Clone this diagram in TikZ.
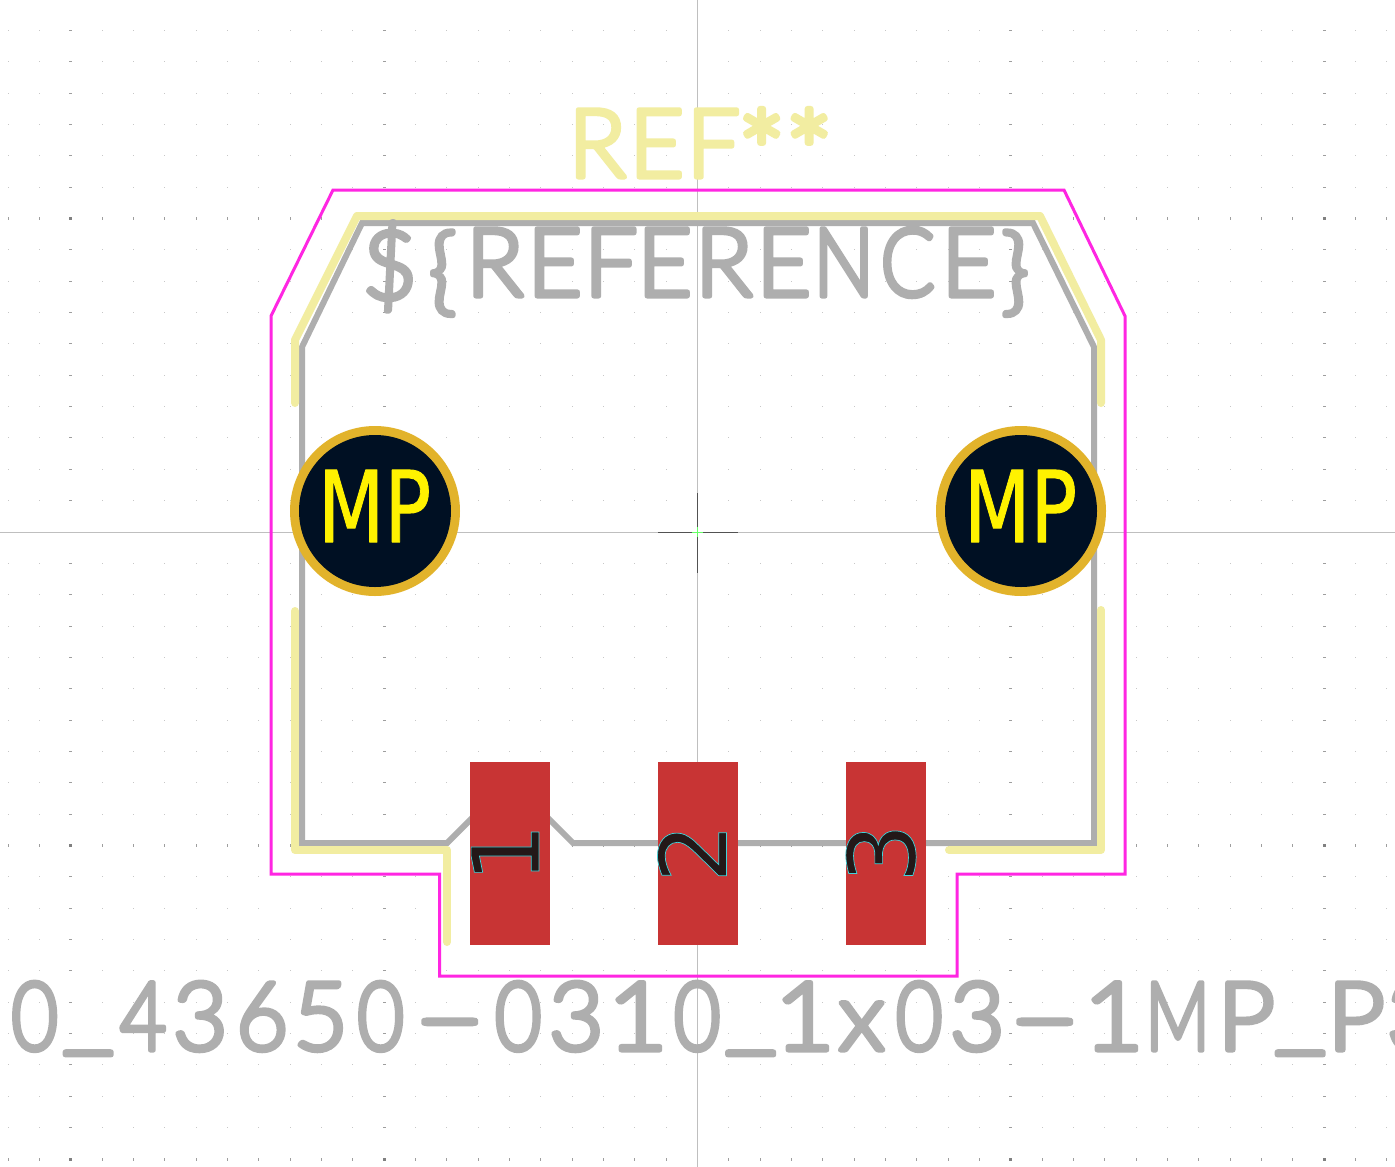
\documentclass[tikz,border=0pt]{standalone}
\usepackage{fontspec}
\setmainfont{DejaVu Sans}
\newfontfamily\strokefont{Lato Light}
\definecolor{fabgrey}{HTML}{AEAEAE}
\definecolor{silk}{HTML}{F2EDA1}
\definecolor{court}{HTML}{FF26E2}
\definecolor{padred}{HTML}{C83434}
\definecolor{padgold}{HTML}{E2B32B}
\definecolor{padnavy}{HTML}{001023}
\definecolor{digit}{HTML}{231818}
\newcommand{\strk}[1]{\special{pdf:code 2 Tr #1 w 1 J 1 j}}
\newcommand{\edge}{\special{pdf:code 2 Tr 0.7 w 0.25 0.83 0.86 RG}}
% one glyph, centred at #1 from the start of the line, stretched by #2
\newcommand{\gl}[3]{\rlap{\kern#1pt\makebox[0pt][c]{\scalebox{#2}[1]{#3}}}}
\newcommand{\starglyph}{\raisebox{-17pt}{\scalebox{1.2}{*}}}
\newcommand{\lowglyph}{\raisebox{8pt}{\_}}
\tikzset{
  griddot/.style={fill=black!22},
  gridmid/.style={fill=black!38},
  gridbig/.style={fill=black!50},
  axisline/.style={draw=black!25,line width=1pt},
  crossline/.style={draw=black!68,line width=1pt},
  fabline/.style={draw=fabgrey,line width=6pt,miter limit=10},
  silkline/.style={draw=silk,line width=8pt,line cap=round,line join=round},
  courtline/.style={draw=court,line width=3pt},
  smdpad/.style={fill=padred},
  mountring/.style={fill=padgold},
  mountcore/.style={fill=padnavy},
  padtext/.style={text=yellow,inner sep=0,font=\fontsize{99}{99}\selectfont},
  digittext/.style={text=digit,inner sep=0,rotate=90,font=\fontsize{93}{93}\selectfont},
  fieldtext/.style={inner sep=0,anchor=base west,font=\strokefont\fontsize{95}{95}\selectfont}
}
\begin{document}
\begin{tikzpicture}[x=1pt,y=-1pt]
\useasboundingbox (0,0) rectangle (1395,1167);
\fill[white] (0,0) rectangle (1395,1167);
\clip (0,0) rectangle (1395,1167);
% grid
\foreach \i in {-22,...,22} \foreach \k in {-17,...,20} {
  \fill[griddot] ({697+\i*31.33},{531.5+\k*31.35}) rectangle ++(1,1);
}
\foreach \i in {-20,-10,10,20} \foreach \k in {-17,...,20} {
  \fill[gridmid] ({696+\i*31.33},{531.5+\k*31.35}) rectangle ++(3,1);
}
\foreach \i in {-22,...,22} \foreach \k in {-10,10,20} {
  \fill[gridmid] ({697+\i*31.33},{530.5+\k*31.35}) rectangle ++(1,3);
}
\foreach \i in {-20,-10,10,20} \foreach \k in {-10,10,20} {
  \fill[gridbig] ({696+\i*31.33},{530.5+\k*31.35}) rectangle ++(3,3);
}
% axes
\draw[axisline] (697.5,0) -- (697.5,1167);
\draw[axisline] (0,532) -- (1395,532);
\draw[crossline] (697.5,493) -- (697.5,573);
\draw[crossline] (658,532) -- (738,532);
\draw[draw=green!60!white,line width=1pt] (692,532) -- (703,532) (697.5,527) -- (697.5,537);
% fab outline
\draw[fabline] (362,223) -- (1033,223) -- (1094,347) -- (1094,843) -- (573,843) -- (510,780) -- (447,843) -- (302,843) -- (302,347) -- cycle;
% silk
\draw[silkline] (295,403) -- (295,340) -- (357,216) -- (1040,216) -- (1101,340) -- (1101,403);
\draw[silkline] (295,611) -- (295,850) -- (447,850) -- (447,942);
\draw[silkline] (1101,610) -- (1101,850) -- (949,850);
% courtyard
\draw[courtline] (333,190) -- (1064,190) -- (1125,316) -- (1125,874) -- (957,874) -- (957,976) -- (439.5,976) -- (439.5,874) -- (271,874) -- (271,316) -- cycle;
% texts
\node[fieldtext,text=silk] (reftext) at (0,177) {\strk{5}\makebox[830pt][l]{\gl{597}{1}{R}\gl{656.5}{1}{E}\gl{713}{1}{F}\gl{761.5}{1}{\starglyph}\gl{809}{1}{\starglyph}}};
\node[fieldtext,text=fabgrey] (valtext) at (0,296) {\strk{5}\makebox[1032pt][l]{\gl{389.5}{1}{\raisebox{-3pt}{\$}}\gl{442.5}{1}{\raisebox{-7pt}{\{}}\gl{494.5}{1}{R}\gl{554.5}{1}{E}\gl{610.5}{1}{F}\gl{664.5}{1}{E}\gl{723.5}{1}{R}\gl{783.5}{1}{E}\gl{843.5}{0.85}{N}\gl{907.5}{0.85}{C}\gl{968.5}{1}{E}\gl{1015}{1}{\raisebox{-7pt}{\}}}}};
\node[fieldtext,text=fabgrey] (nametext) at (0,1050) {\strk{5}\makebox[1395pt][l]{\gl{34.5}{0.85}{0}\gl{88}{1.2}{\lowglyph}\gl{143}{0.85}{4}\gl{200}{1}{3}\gl{262}{0.95}{6}\gl{320.5}{1}{5}\gl{380.5}{0.85}{0}\gl{449.5}{2.1}{-}\gl{518}{0.85}{0}\gl{576}{1}{3}\gl{637.5}{1.1}{1}\gl{697}{0.85}{0}\gl{750.5}{1.2}{\lowglyph}\gl{804.5}{1.1}{1}\gl{861.5}{1.05}{x}\gl{919}{0.85}{0}\gl{977}{1}{3}\gl{1044.5}{2.1}{-}\gl{1113.5}{1.1}{1}\gl{1177.5}{0.75}{M}\gl{1246}{1.05}{P}\gl{1300}{1.2}{\lowglyph}\gl{1356}{1.05}{P}\gl{1414}{1}{3}}};
% pads
\fill[smdpad] (470,762) rectangle (550,945);
\fill[smdpad] (658,762) rectangle (738,945);
\fill[smdpad] (846,762) rectangle (926,945);
\node[digittext] (d1) at (505,853) {\edge 1};
\node[digittext] (d2) at (692,853) {\edge 2};
\node[digittext] (d3) at (881,853) {\edge 3};
\fill[mountring] (375,511) circle (85);
\fill[mountcore] (375,511) circle (76);
\fill[mountring] (1021,511) circle (85);
\fill[mountcore] (1021,511) circle (76);
\node[padtext,xscale=0.78] (mp1) at (374.5,506) {\strk{1}MP};
\node[padtext,xscale=0.78] (mp2) at (1020.5,506) {\strk{1}MP};
\end{tikzpicture}
\end{document}
